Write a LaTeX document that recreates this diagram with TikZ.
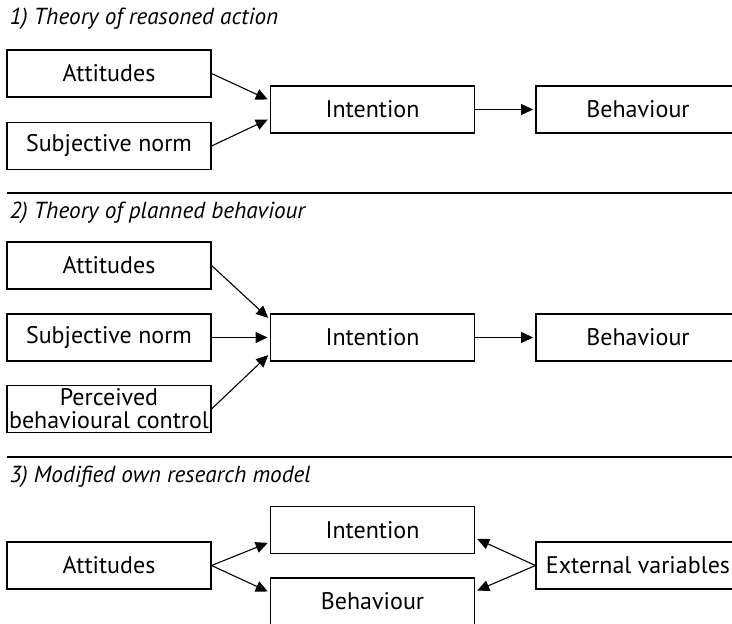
\documentclass[tikz,border=0pt]{standalone}
\usepackage{fontspec}
\setmainfont{PT Sans}
\usetikzlibrary{arrows.meta}

\tikzset{box/.style={draw,minimum width=102pt,minimum height=23.5pt,inner sep=0pt,
    font=\fontsize{12}{13}\selectfont},
  arr/.style={-{Triangle[length=6pt,width=5.5pt]},shorten >=1.2pt},
  heading/.style={anchor=west,inner sep=0pt,font=\fontsize{11.6}{13}\selectfont\itshape},
  rule/.style={line width=0.7pt}}

\begin{document}
\begin{tikzpicture}[x=0.5pt,y=-0.5pt,line width=0.55pt]
\clip (0,0) rectangle (732,624);

% 1) reasoned action
\node[heading] (h1) at (9,19) {1) Theory of reasoned action};
\node[box] (att1) at (109,73.5) {Attitudes};
\node[box] (sub1) at (109,146) {Subjective norm};
\node[box] (int1) at (372.5,109.5) {Intention};
\node[box] (beh1) at (638,109.5) {Behaviour};
\draw[arr] (att1.east) -- ([yshift=4.5pt]int1.west);
\draw[arr] (sub1.east) -- ([yshift=-4.5pt]int1.west);
\draw[arr] (int1) -- (beh1);
\draw[rule] (7,193) -- (732,193);

% 2) planned behaviour
\node[heading] (h2) at (9,213) {2) Theory of planned behaviour};
\node[box] (att2) at (109,265.5) {Attitudes};
\node[box] (sub2) at (109,337.5) {Subjective norm};
\node[box,align=center,font=\fontsize{12}{11.5}\selectfont] (pbc2) at (109,409)
  {Perceived\\behavioural control};
\node[box] (int2) at (372.5,337.5) {Intention};
\node[box] (beh2) at (638,337.5) {Behaviour};
\draw[arr] (att2.east) -- ([yshift=9pt]int2.west);
\draw[arr] (sub2) -- (int2);
\draw[arr] (pbc2.east) -- ([yshift=-8pt]int2.west);
\draw[arr] (int2) -- (beh2);
\draw[rule] (7,457) -- (732,457);

% 3) own model
\node[heading] (h3) at (9,477) {3) Modified own research model};
\node[box] (att3) at (109,565.5) {Attitudes};
\node[box] (int3) at (372.5,530) {Intention};
\node[box] (beh3) at (372.5,601.5) {Behaviour};
\node[box] (ext3) at (638,565.5) {External variables};
\draw[arr] (att3.east) -- ([yshift=-6pt]int3.west);
\draw[arr] (att3.east) -- ([yshift=4.5pt]beh3.west);
\draw[arr] (ext3.west) -- ([yshift=-4pt]int3.east);
\draw[arr] (ext3.west) -- ([yshift=5pt]beh3.east);

\end{tikzpicture}
\end{document}
